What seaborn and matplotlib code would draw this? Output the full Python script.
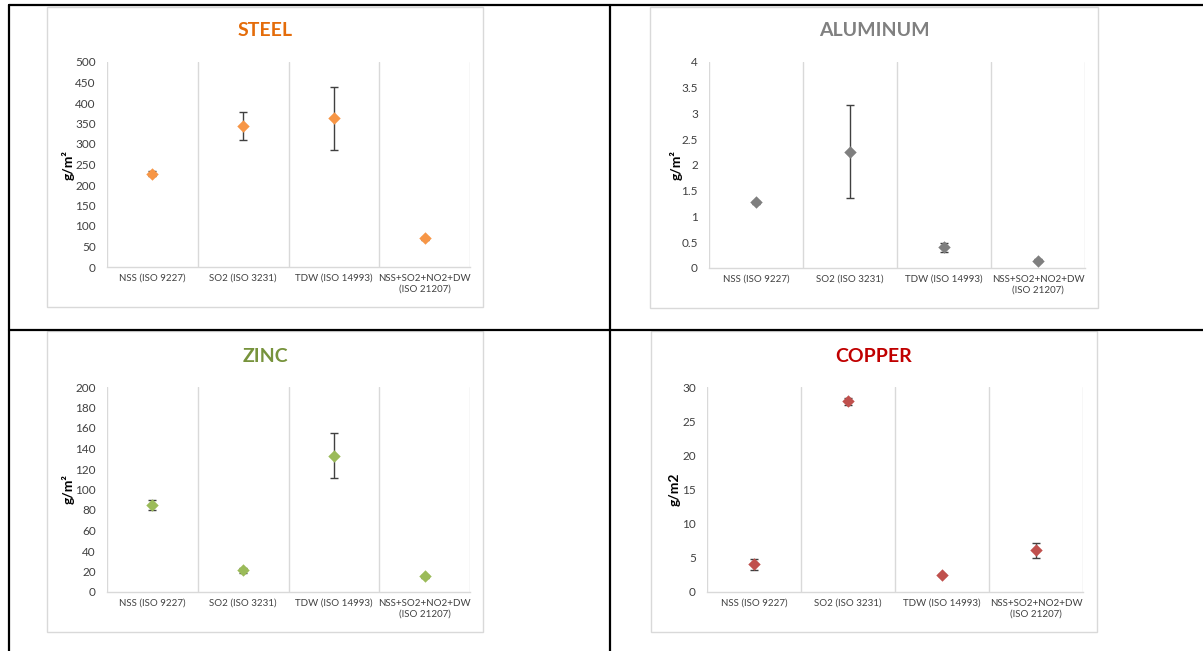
import matplotlib
matplotlib.use("Agg")
import matplotlib.pyplot as plt
from matplotlib.lines import Line2D
from matplotlib.patches import Rectangle
import numpy as np
import pandas as pd
import seaborn as sns

# ---- data -------------------------------------------------------------
categories = ["NSS (ISO 9227)", "SO2 (ISO 3231)", "TDW (ISO 14993)",
              "NSS+SO2+NO2+DW\n(ISO 21207)"]

steel_mean = [228, 343, 363, 70]
steel_err = [5, 34, 77, 4]

aluminum_mean = [1.28, 2.26, 0.40, 0.14]
aluminum_err = [0.03, 0.90, 0.08, 0.03]

zinc_mean = [85, 21, 133, 15.5]
zinc_err = [5, 2, 22, 1.5]

copper_mean = [4.05, 27.9, 2.5, 6.1]
copper_err = [0.8, 0.55, 0.2, 1.1]

steel_ticks = [0, 50, 100, 150, 200, 250, 300, 350, 400, 450, 500]
aluminum_ticks = [0, 0.5, 1, 1.5, 2, 2.5, 3, 3.5, 4]
zinc_ticks = [0, 20, 40, 60, 80, 100, 120, 140, 160, 180, 200]
copper_ticks = [0, 5, 10, 15, 20, 25, 30]

# ---- style ------------------------------------------------------------
sns.set_theme(style="white")
plt.rcParams["font.family"] = ["Lato", "DejaVu Sans"]

W, H = 1203, 651
fig = plt.figure(figsize=(W / 100, H / 100), dpi=100)
fig.patch.set_facecolor("white")


def px_rect(x0, y0, x1, y1):
    """Convert a pixel box (top-left origin) to figure fractions."""
    return [x0 / W, 1 - y1 / H, (x1 - x0) / W, (y1 - y0) / H]


panels = [
    dict(name="STEEL", mean=steel_mean, err=steel_err, ticks=steel_ticks,
         ylabel="g/m²", marker="#F79646", title_color="#E46C0A",
         box=(47, 7, 483, 307), plot=(107, 62, 470, 267), title_y=31,
         ylabel_x=-0.107),
    dict(name="ALUMINUM", mean=aluminum_mean, err=aluminum_err,
         ticks=aluminum_ticks, ylabel="g/m²", marker="#7F7F7F",
         title_color="#808080",
         box=(650, 7, 1098, 308), plot=(709, 62, 1085, 268), title_y=31,
         ylabel_x=-0.088),
    dict(name="ZINC", mean=zinc_mean, err=zinc_err, ticks=zinc_ticks,
         ylabel="g/m²", marker="#9BBB59", title_color="#77933C",
         box=(47, 331, 483, 632), plot=(107, 387, 470, 592), title_y=356,
         ylabel_x=-0.107),
    dict(name="COPPER", mean=copper_mean, err=copper_err, ticks=copper_ticks,
         ylabel="g/m2", marker="#C0504D", title_color="#C00000",
         box=(651, 331, 1097, 632), plot=(707, 387, 1083, 592), title_y=356,
         ylabel_x=-0.085),
]

grid_color = "#D9D9D9"
text_color = "#404040"

for p in panels:
    # chart frame
    bx0, by0, bx1, by1 = p["box"]
    frame = Rectangle((bx0 / W, 1 - by1 / H), (bx1 - bx0) / W,
                      (by1 - by0) / H, transform=fig.transFigure,
                      facecolor="none", edgecolor=grid_color,
                      linewidth=1.0, zorder=-1)
    fig.add_artist(frame)
    fig.text((bx0 + bx1) / 2 / W, 1 - p["title_y"] / H, p["name"],
             ha="center", va="center", fontsize=14, fontweight="bold",
             color=p["title_color"])

    ax = fig.add_axes(px_rect(*p["plot"]))
    df = pd.DataFrame({"x": np.arange(len(categories)), "y": p["mean"],
                       "err": p["err"]})
    ax.errorbar(df["x"], df["y"], yerr=df["err"], fmt="none",
                ecolor="#404040", elinewidth=1.0, capsize=3.2,
                capthick=1.0, zorder=2)
    sns.scatterplot(data=df, x="x", y="y", marker="D", s=40,
                    color=p["marker"], edgecolor=p["marker"], linewidth=0,
                    ax=ax, zorder=3, legend=False)

    ax.set_xlim(-0.5, len(categories) - 0.5)
    ax.set_ylim(p["ticks"][0], p["ticks"][-1])
    ax.set_yticks(p["ticks"])
    ax.set_yticklabels([f"{t:g}" for t in p["ticks"]])
    ax.set_xticks(np.arange(len(categories)))
    ax.set_xticklabels(categories, fontsize=7, color=text_color,
                       linespacing=1.3)
    ax.tick_params(axis="y", labelsize=8.5, colors=text_color, length=0,
                   pad=8)
    ax.tick_params(axis="x", length=0, pad=5)
    ax.set_xlabel("")
    ax.set_ylabel(p["ylabel"], fontsize=10, fontweight="bold", color="black")
    ax.yaxis.label.set_verticalalignment("center")
    ax.yaxis.set_label_coords(p["ylabel_x"], 0.5)

    # vertical separators between categories
    for b in np.arange(-0.5, len(categories), 1.0):
        ax.axvline(b, color=grid_color, linewidth=1.0, zorder=0)
    for side in ["top", "right", "left"]:
        ax.spines[side].set_visible(False)
    ax.spines["bottom"].set_color(grid_color)
    ax.spines["bottom"].set_linewidth(1.0)
    ax.set_facecolor("none")

# outer table rules
rule = dict(color="black", linewidth=1.6, transform=fig.transFigure)
fig.add_artist(Line2D([9 / W, 1], [1 - 5 / H, 1 - 5 / H], **rule))
fig.add_artist(Line2D([9 / W, 9 / W], [0, 1 - 5 / H], **rule))
fig.add_artist(Line2D([610 / W, 610 / W], [0, 1 - 5 / H], **rule))
fig.add_artist(Line2D([9 / W, 1], [1 - 329.5 / H, 1 - 329.5 / H], **rule))

fig.savefig("out.png", dpi=100, facecolor="white")
